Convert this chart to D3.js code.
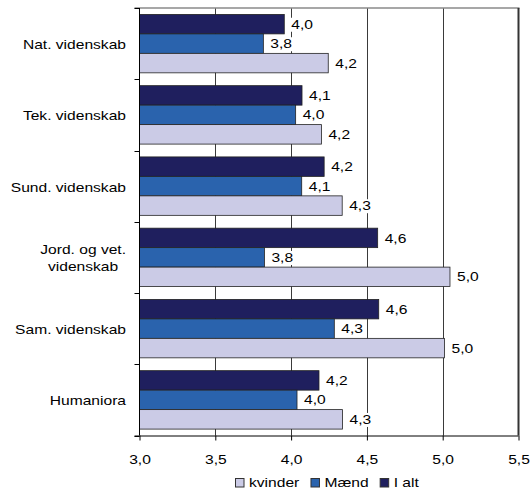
<!DOCTYPE html>
<html>
<head>
<meta charset="utf-8">
<script src="https://cdn.jsdelivr.net/npm/d3@7"></script>
<style>
  html, body { margin: 0; padding: 0; background: #fff; }
  svg { display: block; }
  text { font-family: "Liberation Sans", Arial, sans-serif; fill: #000; }
</style>
</head>
<body>
<svg id="chart" width="532" height="490"></svg>
<script>
// ---- data ----
const categories = ["Nat. videnskab", "Tek. videnskab", "Sund. videnskab", "Jord. og vet. videnskab", "Sam. videnskab", "Humaniora"];
const categoryLines = [["Nat. videnskab"], ["Tek. videnskab"], ["Sund. videnskab"], ["Jord. og vet.", "videnskab"], ["Sam. videnskab"], ["Humaniora"]];
const seriesNames = ["I alt", "Mænd", "kvinder"];          // top to bottom inside each group
const legendOrder = ["kvinder", "Mænd", "I alt"];
const iAlt    = [3.955, 4.072, 4.218, 4.571, 4.578, 4.184];
const maend   = [3.817, 4.030, 4.070, 3.824, 4.285, 4.039];
const kvinder = [4.245, 4.200, 4.337, 5.048, 5.012, 4.339];
const xTicks  = [3.0, 3.5, 4.0, 4.5, 5.0, 5.5];

// ---- setup ----
const seriesValues = { "I alt": iAlt, "Mænd": maend, "kvinder": kvinder };
const colors = { "I alt": "#1f1f5e", "Mænd": "#2a63ad", "kvinder": "#cbcbe6" };
const SX = 1.2;        // horizontal stretch of the text in the reference
const FS = 13;

const svg = d3.select("#chart");
const x = d3.scaleLinear().domain([3.0, 5.5]).range([139.5, 518.5]);
const y = d3.scaleBand().domain(categories).range([8, 435.5]).paddingInner(0.18).paddingOuter(0.09);
const ySub = d3.scaleBand().domain(seriesNames).range([0, y.bandwidth()]);
const fmt = v => d3.format(".1f")(v).replace(".", ",");

function stretchedText(parent, tx, ty, str, anchor) {
  const g = parent.append("g").attr("transform", `translate(${tx},${ty}) scale(${SX},1)`);
  const t = g.append("text").attr("font-size", FS).attr("text-anchor", anchor || "start").text(str);
  return { g, t };
}

// gridlines
const grid = svg.append("g");
grid.selectAll("line").data(xTicks.slice(1, -1)).join("line")
  .attr("x1", d => Math.round(x(d)) + 0.5).attr("x2", d => Math.round(x(d)) + 0.5)
  .attr("y1", y.range()[0]).attr("y2", y.range()[1])
  .attr("stroke", "#3a3a3a").attr("stroke-width", 1);

// top border & right border
svg.append("line").attr("x1", x.range()[0] - 5).attr("x2", x.range()[1] + 1)
  .attr("y1", y.range()[0]).attr("y2", y.range()[0])
  .attr("stroke", "#8a8a8a").attr("stroke-width", 1.6);
svg.append("line").attr("x1", x(5.5)).attr("x2", x(5.5))
  .attr("y1", y.range()[0]).attr("y2", y.range()[1])
  .attr("stroke", "#333").attr("stroke-width", 2);

// bars
const groups = svg.append("g").selectAll("g").data(categories).join("g")
  .attr("transform", c => `translate(0,${y(c)})`);
seriesNames.forEach(s => {
  groups.append("rect")
    .attr("x", x(3.0))
    .attr("y", ySub(s))
    .attr("width", (c, i) => x(seriesValues[s][i]) - x(3.0))
    .attr("height", ySub.bandwidth())
    .attr("fill", colors[s])
    .attr("stroke", "#222")
    .attr("stroke-width", 0.8);
});

// value labels (white background)
const labels = svg.append("g");
categories.forEach((c, i) => {
  seriesNames.forEach(s => {
    const v = seriesValues[s][i];
    const cy = y(c) + ySub(s) + ySub.bandwidth() / 2;
    const { g, t } = stretchedText(labels, x(v) + 7, cy + 4.6, fmt(v), "start");
    const bb = t.node().getBBox();
    g.insert("rect", "text").attr("x", bb.x - 1).attr("y", -11).attr("width", bb.width + 2).attr("height", 14).attr("fill", "#fff");
  });
});

// left axis line + category ticks
svg.append("line").attr("x1", x.range()[0]).attr("x2", x.range()[0])
  .attr("y1", y.range()[0]).attr("y2", y.range()[1]).attr("stroke", "#000").attr("stroke-width", 1);
const bounds = d3.range(categories.length + 1).map(i => y.range()[0] + i * y.step());
svg.append("g").selectAll("line").data(bounds).join("line")
  .attr("x1", x.range()[0] - 5).attr("x2", x.range()[0])
  .attr("y1", d => Math.round(d) + 0.5).attr("y2", d => Math.round(d) + 0.5)
  .attr("stroke", "#000").attr("stroke-width", 1);

// category labels
categories.forEach((c, i) => {
  const lines = categoryLines[i];
  const cy = y(c) + y.bandwidth() / 2;
  if (lines.length === 1) {
    stretchedText(svg, 126, cy + 5.5, lines[0], "end");
  } else {
    // two-line label: centred block, right edge at 126
    const tmp = stretchedText(svg, 0, 0, lines[0], "start");
    const w = d3.max(lines, l => { tmp.t.text(l); return tmp.t.node().getBBox().width * SX; });
    tmp.g.remove();
    const cx = 126 - w / 2;
    lines.forEach((l, k) => stretchedText(svg, cx, cy + 5.5 + (k - (lines.length - 1) / 2) * 17, l, "middle"));
  }
});

// x axis
const xAxis = svg.append("g").attr("transform", `translate(0,${y.range()[1]})`)
  .call(d3.axisBottom(x).tickValues(xTicks).tickSize(5).tickSizeOuter(0).tickFormat(fmt));
xAxis.select(".domain").attr("d", `M${x.range()[0] - 5},0.5H${x.range()[1]}`).attr("stroke", "#000");
xAxis.selectAll(".tick line").attr("stroke", "#000");
xAxis.selectAll(".tick text").attr("y", 28.5).attr("dy", null)
  .attr("font-size", FS).attr("font-family", "Liberation Sans, Arial, sans-serif")
  .attr("transform", `scale(${SX},1)`).attr("fill", "#000");

// legend
const legend = svg.append("g");
let lx = 235;
legendOrder.forEach(s => {
  legend.append("rect").attr("x", lx + 0.5).attr("y", 478.5).attr("width", 8.5).attr("height", 8.5)
    .attr("fill", colors[s]).attr("stroke", "#333").attr("stroke-width", 1);
  const { t } = stretchedText(legend, lx + 14, 486.5, s, "start");
  lx = lx + 14 + t.node().getBBox().width * SX + 11;
});
</script>
</body>
</html>
